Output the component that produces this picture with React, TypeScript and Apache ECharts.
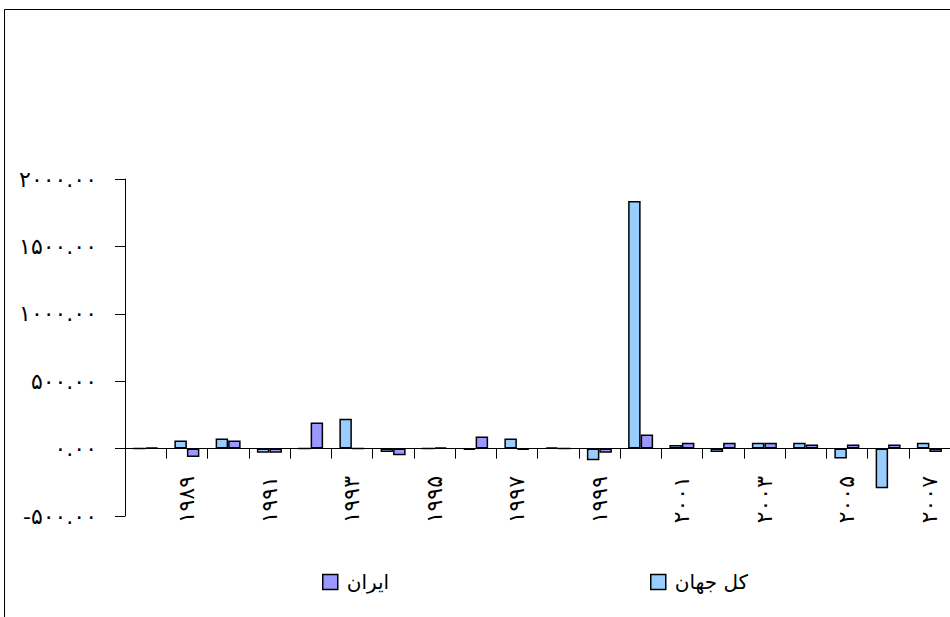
import React, { useEffect, useRef } from "react";
import * as echarts from "echarts";

const categories = [
  "۱۹۸۸", "۱۹۸۹", "۱۹۹۰", "۱۹۹۱", "۱۹۹۲", "۱۹۹۳", "۱۹۹۴", "۱۹۹۵", "۱۹۹۶", "۱۹۹۷",
  "۱۹۹۸", "۱۹۹۹", "۲۰۰۰", "۲۰۰۱", "۲۰۰۲", "۲۰۰۳", "۲۰۰۴", "۲۰۰۵", "۲۰۰۶", "۲۰۰۷",
];
const worldName = "کل جهان";
const iranName = "ایران";
const worldValues = [0, 60, 75, -30, 0, 222, -25, 0, -8, 74, 8, -87, 1837, 27, -25, 44, 44, -74, -294, 44];
const iranValues = [8, -62, 60, -30, 193, 0, -50, 8, 89, -8, 0, -30, 104, 44, 44, 44, 30, 30, 30, -25];
const yTickValues = [-500, 0, 500, 1000, 1500, 2000];
const yTickLabels = ["-۵۰۰.۰۰", "۰.۰۰", "۵۰۰.۰۰", "۱۰۰۰.۰۰", "۱۵۰۰.۰۰", "۲۰۰۰.۰۰"];

const FONT = "DejaVu Sans, Tahoma, sans-serif";

export default function App() {
  const ref = useRef<HTMLDivElement>(null);
  useEffect(() => {
    document.body.style.margin = "0";
    const chart = echarts.init(ref.current!, null, { renderer: "svg" });
    const legendText = { fontFamily: FONT, fontSize: 20, color: "#000", padding: [0, 0, 0, 4] };
    chart.setOption({
      animation: false,
      backgroundColor: "#fff",
      textStyle: { fontFamily: FONT, color: "#000" },
      graphic: [
        {
          type: "rect",
          shape: { x: 4.5, y: 9.5, width: 960, height: 620 },
          style: { fill: "none", stroke: "#000", lineWidth: 1 },
          silent: true,
        },
      ],
      legend: [
        {
          data: [iranName],
          left: 317,
          top: 567,
          icon: "rect",
          itemWidth: 15,
          itemHeight: 15,
          itemStyle: { borderColor: "#000", borderWidth: 1.5 },
          textStyle: legendText,
        },
        {
          data: [worldName],
          left: 645,
          top: 567,
          icon: "rect",
          itemWidth: 15,
          itemHeight: 15,
          itemStyle: { borderColor: "#000", borderWidth: 1.5 },
          textStyle: legendText,
        },
      ],
      grid: { left: 125, right: -5, top: 179, bottom: 101, containLabel: false },
      xAxis: {
        type: "category",
        data: categories,
        axisLine: { onZero: true, lineStyle: { color: "#000", width: 1 } },
        axisTick: { show: true, interval: 0, length: 10, lineStyle: { color: "#000" } },
        axisLabel: {
          interval: (index: number) => index % 2 === 1,
          rotate: 90,
          margin: -40,
          fontSize: 22,
          fontFamily: FONT,
          color: "#000",
        },
        splitLine: { show: false },
      },
      yAxis: {
        type: "value",
        min: -500,
        max: 2000,
        interval: 500,
        axisLine: { show: true, lineStyle: { color: "#000", width: 1 } },
        axisTick: { show: true, length: 10, lineStyle: { color: "#000" } },
        axisLabel: {
          margin: 28,
          fontSize: 22,
          fontFamily: FONT,
          color: "#000",
          formatter: (v: number) => {
            const i = yTickValues.indexOf(v);
            return i >= 0 ? yTickLabels[i] : "";
          },
        },
        splitLine: { show: false },
      },
      series: [
        {
          name: worldName,
          type: "bar",
          data: worldValues,
          barWidth: 12.5,
          barGap: "0%",
          itemStyle: { color: "#99CCFF", borderColor: "#000", borderWidth: 1.5 },
        },
        {
          name: iranName,
          type: "bar",
          data: iranValues,
          barWidth: 12.5,
          barGap: "0%",
          itemStyle: { color: "#9999FF", borderColor: "#000", borderWidth: 1.5 },
        },
      ],
    });
    return () => chart.dispose();
  }, []);
  return <div ref={ref} style={{ width: 950, height: 617 }} />;
}
